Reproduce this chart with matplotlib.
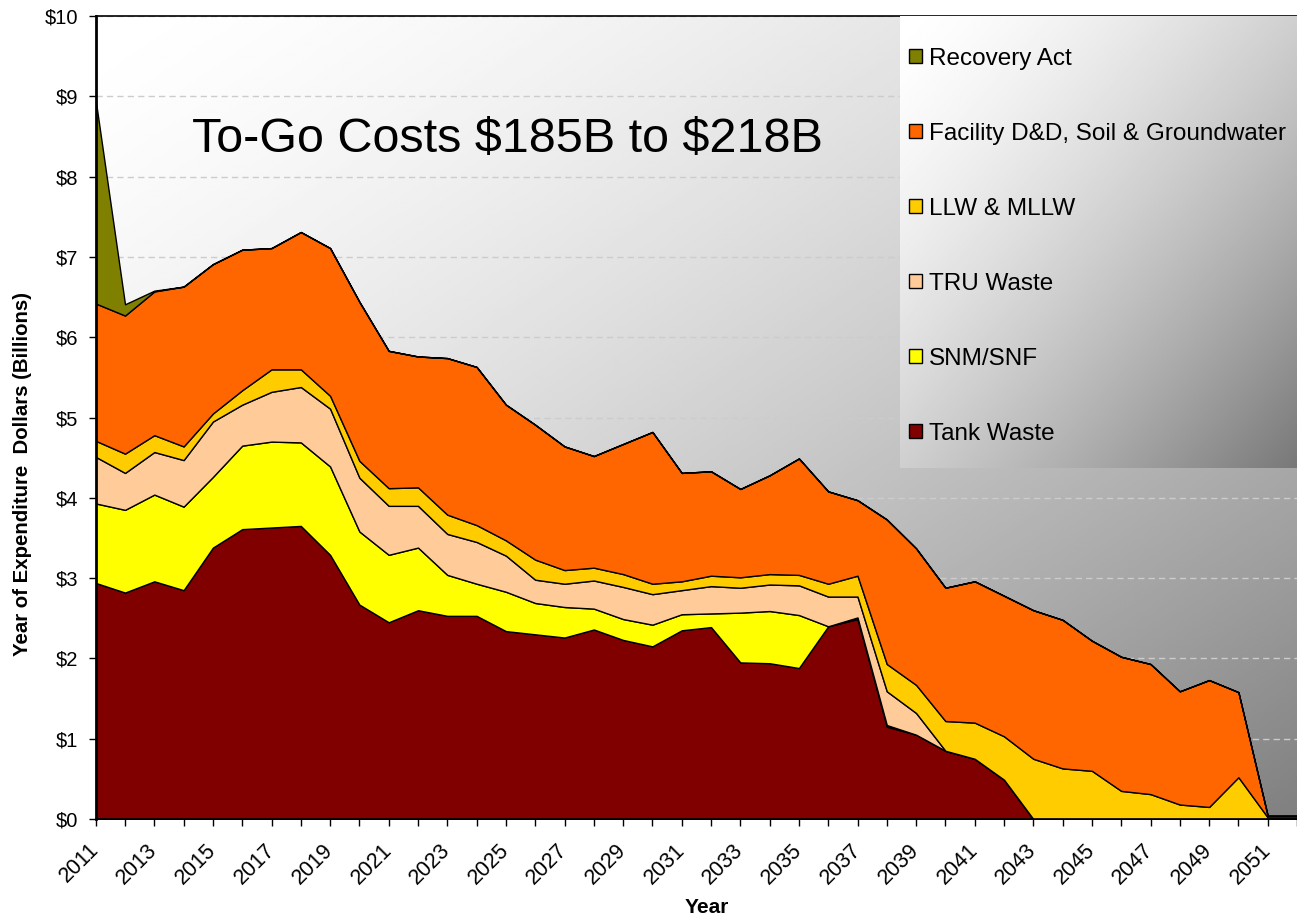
import numpy as np
import matplotlib.pyplot as plt
from matplotlib.patches import Patch

plt.rcParams['font.family'] = ['Liberation Sans', 'DejaVu Sans']
plt.rcParams['text.parse_math'] = False

# data (billions, year of expenditure dollars)
years = list(range(2011, 2053))
tank_waste = [2.94, 2.82, 2.96, 2.85, 3.38, 3.61, 3.63, 3.65, 3.29, 2.67, 2.45, 2.60, 2.53, 2.53,
              2.34, 2.30, 2.26, 2.36, 2.23, 2.15, 2.35, 2.39, 1.95, 1.94, 1.88, 2.40, 2.49, 1.15,
              1.05, 0.85, 0.75, 0.49, 0, 0, 0, 0, 0, 0, 0, 0, 0, 0]
snm_snf = [0.99, 1.03, 1.08, 1.04, 0.88, 1.04, 1.07, 1.04, 1.10, 0.91, 0.84, 0.78, 0.51, 0.40,
           0.49, 0.39, 0.38, 0.26, 0.26, 0.27, 0.20, 0.17, 0.62, 0.65, 0.66, 0.00, 0.02, 0.02,
           0, 0, 0, 0, 0, 0, 0, 0, 0, 0, 0, 0, 0, 0]
tru_waste = [0.58, 0.46, 0.53, 0.58, 0.69, 0.51, 0.62, 0.69, 0.72, 0.67, 0.61, 0.52, 0.51, 0.52,
             0.45, 0.29, 0.29, 0.35, 0.40, 0.38, 0.30, 0.34, 0.31, 0.33, 0.37, 0.37, 0.26, 0.42,
             0.27, 0, 0, 0, 0, 0, 0, 0, 0, 0, 0, 0, 0, 0]
llw_mllw = [0.20, 0.24, 0.21, 0.17, 0.10, 0.18, 0.28, 0.22, 0.16, 0.21, 0.22, 0.23, 0.24, 0.21,
            0.19, 0.25, 0.17, 0.16, 0.16, 0.13, 0.11, 0.13, 0.13, 0.13, 0.13, 0.16, 0.26, 0.34,
            0.35, 0.37, 0.45, 0.54, 0.75, 0.63, 0.60, 0.35, 0.31, 0.18, 0.15, 0.52, 0.02, 0.02]
facility_dd = [1.71, 1.72, 1.79, 1.99, 1.86, 1.75, 1.51, 1.71, 1.84, 1.98, 1.71, 1.63, 1.95, 1.97,
               1.69, 1.68, 1.54, 1.39, 1.62, 1.89, 1.35, 1.30, 1.10, 1.23, 1.45, 1.15, 0.94, 1.80,
               1.70, 1.66, 1.76, 1.75, 1.85, 1.85, 1.62, 1.67, 1.62, 1.41, 1.58, 1.06, 0.02, 0.02]
recovery_act = [2.53, 0.14, 0.01] + [0] * 39

labels = ['Tank Waste', 'SNM/SNF', 'TRU Waste', 'LLW & MLLW',
          'Facility D&D, Soil & Groundwater', 'Recovery Act']
colors = ['#800000', '#FFFF00', '#FFCC99', '#FFCC00', '#FF6600', '#808000']

fig = plt.figure(figsize=(12.97, 9.16), dpi=100)
ax = fig.add_axes([0.0738, 0.1059, 0.9262, 0.8766])

# diagonal gradient background, white top-left -> grey bottom-right
gx, gy = np.meshgrid(np.linspace(0, 1, 300), np.linspace(0, 1, 300))
t = ((gx + gy) / 2) ** 1.5
ax.imshow(1.0 - t * 0.5, cmap='gray', vmin=0, vmax=1, extent=[0, 1, 0, 1],
          transform=ax.transAxes, aspect='auto', zorder=0, interpolation='bilinear')

ax.stackplot(years, tank_waste, snm_snf, tru_waste, llw_mllw, facility_dd, recovery_act,
             colors=colors, edgecolor='black', linewidth=1.0, zorder=2)

ax.set_xlim(2011, 2051.6)
ax.set_ylim(0, 10)
ax.set_yticks(range(0, 11))
ax.set_yticklabels([f'${v}' for v in range(0, 11)])
ax.set_xticks(range(2011, 2052, 2))
ax.set_xticks(range(2011, 2053), minor=True)
ax.tick_params(axis='x', which='major', labelsize=15.5, rotation=45, length=5, width=1,
               direction='out', pad=15)
ax.tick_params(axis='x', which='minor', length=5, width=1, direction='out')
ax.tick_params(axis='y', labelsize=14.5, length=5, width=1, direction='out', pad=7.5)
for lbl in ax.get_xticklabels():
    lbl.set_ha('right')
    lbl.set_va('center')
    lbl.set_rotation_mode('anchor')

ax.set_axisbelow(True)
ax.yaxis.grid(True, linestyle=(0, (4.5, 3)), color='#cccccc', linewidth=1)
ax.spines['right'].set_visible(False)
ax.spines['left'].set_linewidth(2)
ax.spines['bottom'].set_linewidth(1.2)
ax.spines['top'].set_linewidth(1.2)

ax.set_xlabel('Year', fontsize=15, fontweight='bold')
ax.xaxis.set_label_coords(0.509, -0.098)
ax.set_ylabel('Year of Expenditure  Dollars (Billions)', fontsize=14.7, fontweight='bold')
ax.yaxis.set_label_coords(-0.053, 0.43)

ax.text(2025.04, 8.31, 'To-Go Costs $185B to $218B', fontsize=34.9, ha='center',
        va='baseline', zorder=5)

# legend box with its own gradient
lax = fig.add_axes([900 / 1297, 1 - 468 / 916, 1 - 900 / 1297, (468 - 16) / 916])
lax.imshow(1.0 - t * 0.53, cmap='gray', vmin=0, vmax=1, extent=[0, 1, 0, 1],
           aspect='auto', interpolation='bilinear')
lax.set_xlim(0, 1)
lax.set_ylim(0, 1)
lax.axis('off')
handles = [Patch(facecolor=c, edgecolor='black', label=l) for c, l in zip(colors, labels)][::-1]
lax.legend(handles=handles, loc='upper left', bbox_to_anchor=(0.0227, 0.930), frameon=False,
           fontsize=17.5, handlelength=0.55, handleheight=0.55, handletextpad=0.28,
           labelspacing=2.18, borderaxespad=0.0, borderpad=0.0)

fig.savefig('out.png', dpi=100)
